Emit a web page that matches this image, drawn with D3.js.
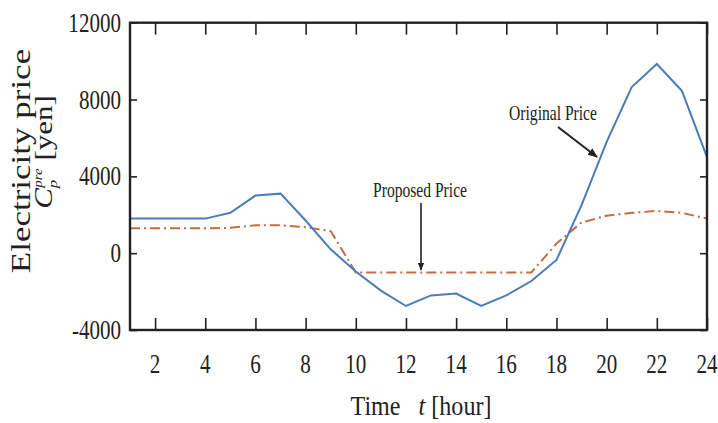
<!DOCTYPE html>
<html><head><meta charset="utf-8">
<script src="https://cdn.jsdelivr.net/npm/d3@7"></script>
<style>body{margin:0;background:#fff}svg{display:block}</style>
</head><body>
<svg id="c" width="718" height="423"></svg>
<script>
const hours = d3.range(1, 25);
const originalPrice = [1800,1800,1800,1800,2100,3000,3100,1700,200,-950,-1950,-2750,-2200,-2100,-2750,-2200,-1450,-350,2500,5800,8650,9850,8450,5000];
const proposedPrice = [1300,1300,1300,1300,1320,1450,1450,1350,1150,-1000,-1000,-1000,-1000,-1000,-1000,-1000,-1000,500,1600,1950,2100,2200,2100,1800];
const xTicks = [2,4,6,8,10,12,14,16,18,20,22,24];
const yTicks = [-4000,0,4000,8000,12000];

const svg = d3.select("#c");
const L=130, R=707, T=22.7, B=330;
const x = d3.scaleLinear().domain([1,24]).range([L,R]);
const y = d3.scaleLinear().domain([-4000,12000]).range([B,T]);
const SX = 0.78;
const font = "'Liberation Serif','Times New Roman',serif";

function txt(g, s, px, py, size, anchor){
  return g.append("text").attr("transform",`translate(${px},${py}) scale(${SX},1)`)
    .attr("font-family",font).attr("font-size",size).attr("text-anchor",anchor||"middle")
    .attr("fill","#222").text(s);
}

// lines
const line = d3.line().x((d,i)=>x(hours[i])).y(d=>y(d));
svg.append("path").datum(proposedPrice).attr("d",line).attr("fill","none")
  .attr("stroke","#c96a3e").attr("stroke-width",2).attr("stroke-dasharray","10,4,2,4");
svg.append("path").datum(originalPrice).attr("d",line).attr("fill","none")
  .attr("stroke","#4a7db8").attr("stroke-width",2);

// axes
const ax = svg.append("g");
ax.append("g").attr("transform",`translate(0,${B})`)
  .call(d3.axisBottom(x).tickValues(xTicks).tickSizeInner(-12).tickSizeOuter(0).tickFormat(""));
ax.append("g").attr("transform",`translate(0,${T})`)
  .call(d3.axisTop(x).tickValues(xTicks).tickSizeInner(-12).tickSizeOuter(0).tickFormat(""));
ax.append("g").attr("transform",`translate(${L},0)`)
  .call(d3.axisLeft(y).tickValues(yTicks).tickSizeInner(-7).tickSizeOuter(0).tickFormat(""));
ax.append("g").attr("transform",`translate(${R},0)`)
  .call(d3.axisRight(y).tickValues(yTicks).tickSizeInner(-7).tickSizeOuter(0).tickFormat(""));
ax.selectAll(".domain").remove();
ax.selectAll(".tick line").attr("stroke","#222").attr("stroke-width",1.6);
svg.append("rect").attr("x",L).attr("y",T).attr("width",R-L).attr("height",B-T)
  .attr("fill","none").attr("stroke","#222").attr("stroke-width",2.4);

// tick labels
xTicks.forEach(v=>txt(svg, String(v), x(v), 373, 27));
yTicks.forEach(v=>txt(svg, String(v), 121, y(v)+9, 27, "end"));

// axis titles
const xt = svg.append("text").attr("transform",`translate(421,415) scale(0.86,1)`)
  .attr("font-family",font).attr("font-size",28).attr("text-anchor","middle").attr("fill","#222")
  .attr("xml:space","preserve");
xt.append("tspan").text("Time   ");
xt.append("tspan").attr("font-style","italic").text("t");
xt.append("tspan").text(" [hour]");

const yl = svg.append("g");
yl.append("text").attr("transform",`translate(30,161) rotate(-90) scale(1,${SX})`)
  .attr("font-family",font).attr("font-size",35).attr("text-anchor","middle").attr("fill","#222")
  .text("Electricity price");
const y2 = yl.append("text").attr("transform",`translate(52,152) rotate(-90) scale(1,${SX})`)
  .attr("font-family",font).attr("font-size",31).attr("text-anchor","middle").attr("fill","#222");
y2.append("tspan").attr("font-style","italic").text("C");
y2.append("tspan").attr("font-style","italic").attr("font-size",17).attr("dy",7).text("p");
y2.append("tspan").attr("font-style","italic").attr("font-size",15).attr("dx",-8).attr("dy",-20).text("pre");
y2.append("tspan").attr("dy",13).text(" [yen]");

// annotations
txt(svg, "Original Price", 553, 120, 20);
txt(svg, "Proposed Price", 420, 197, 20);
svg.append("defs").append("marker").attr("id","ah").attr("viewBox","0 0 10 10")
  .attr("refX",9).attr("refY",5).attr("markerWidth",5).attr("markerHeight",5).attr("orient","auto")
  .append("path").attr("d","M0,1 L10,5 L0,9 Z").attr("fill","#222");
svg.append("line").attr("x1",558).attr("y1",127).attr("x2",597).attr("y2",157)
  .attr("stroke","#222").attr("stroke-width",2).attr("marker-end","url(#ah)");
svg.append("line").attr("x1",421).attr("y1",203).attr("x2",421).attr("y2",270)
  .attr("stroke","#222").attr("stroke-width",1.6).attr("marker-end","url(#ah)");
</script>
</body></html>
